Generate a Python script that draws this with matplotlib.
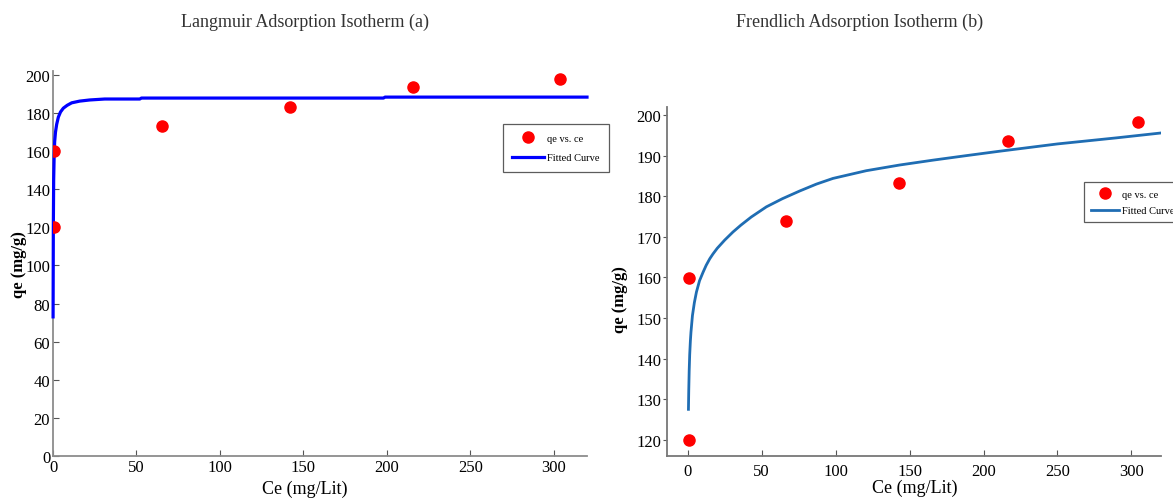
import matplotlib
matplotlib.use("Agg")
import matplotlib.pyplot as plt

plt.rcParams['font.family'] = ['Liberation Serif', 'DejaVu Serif']

# ---- data ----
ce_a = [0.3, 0.3, 65.6, 142.0, 216.0, 304.0]
qe_a = [120.2, 160.0, 173.4, 183.2, 193.7, 197.9]
fit_ce_a = [0.05, 0.2, 0.4, 0.7, 1.0, 1.5, 2.2, 3.2, 4.5, 6.2, 8.5, 11.2, 16.0,
            22.0, 31.0, 52.0, 53.0, 198.0, 199.0, 320.0]
fit_qe_a = [73.0, 120.0, 145.0, 158.0, 165.0, 170.0, 174.0, 177.8, 180.5, 182.5,
            184.0, 185.3, 186.2, 186.8, 187.3, 187.3, 187.8, 187.8, 188.3, 188.3]

ce_b = [1.0, 1.0, 66.4, 142.6, 216.4, 304.3]
qe_b = [120.0, 159.9, 173.8, 183.2, 193.6, 198.3]
fit_ce_b = [0.5, 0.7, 1.0, 1.35, 1.8, 2.2, 3.2, 4.5, 5.9, 8.0, 10.4, 12.5, 14.9, 17.1,
            20.0, 25.0, 30.6, 36.0, 43.0, 53.2, 64.0, 75.7, 87.0, 98.2, 120.7, 143.2,
            165.8, 188.0, 210.8, 250.0, 290.0, 320.0]
fit_qe_b = [127.5, 132.0, 137.0, 141.0, 144.3, 146.5, 150.6, 153.8, 156.4, 159.2,
            161.3, 163.0, 164.6, 165.8, 167.2, 169.2, 171.2, 172.9, 174.9, 177.4,
            179.4, 181.3, 183.0, 184.4, 186.3, 187.7, 188.9, 190.0, 191.1, 192.9,
            194.4, 195.6]

x_ticks = [0, 50, 100, 150, 200, 250, 300]
y_ticks_a = [0, 20, 40, 60, 80, 100, 120, 140, 160, 180, 200]
y_ticks_b = [120, 130, 140, 150, 160, 170, 180, 190, 200]

W, H = 1173, 502
fig = plt.figure(figsize=(W / 100, H / 100), dpi=100)


def fr(x0, y0, x1, y1):
    return [x0 / W, 1 - y1 / H, (x1 - x0) / W, (y1 - y0) / H]


ax1 = fig.add_axes(fr(53, 72, 587, 457))
ax2 = fig.add_axes(fr(667, 108, 1161, 457))

tick_fs = 12
# ---- panel (a) ----
ax1.plot(ce_a, qe_a, 'o', color='#ff0000', ms=8, mec='#ff0000', label='qe vs. ce', zorder=4)
ax1.plot(fit_ce_a, fit_qe_a, '-', color='#0000ff', lw=2.3, label='Fitted Curve', zorder=3,
         clip_on=False)
ax1.set_xlim(0, 320)
ax1.set_ylim(0, 202)
ax1.set_xticks(x_ticks)
ax1.set_yticks(y_ticks_a)
for s in ['top', 'right']:
    ax1.spines[s].set_visible(False)
for s in ['left', 'bottom']:
    ax1.spines[s].set_color('#8c8c8c')
    ax1.spines[s].set_linewidth(1.3)
ax1.tick_params(direction='in', length=4, width=0.8, color='#555555',
                labelsize=tick_fs, pad=2)
ax1.set_xlabel('Ce (mg/Lit)', fontsize=13)
ax1.set_ylabel('qe (mg/g)', fontsize=12, fontweight='bold')
ax1.xaxis.set_label_coords(0.472, -0.062)
ax1.yaxis.set_label_coords(-0.048, 0.499)

leg1 = ax1.legend(loc='upper left', bbox_to_anchor=(503 / W, 1 - 125 / H),
                  bbox_transform=fig.transFigure, fontsize=7.5, frameon=True,
                  fancybox=False, edgecolor='#333333', handlelength=3.0,
                  labelspacing=1.0, borderpad=0.9, handletextpad=0.3,
                  borderaxespad=0)
leg1.get_frame().set_linewidth(0.9)

# ---- panel (b) ----
ax2.plot(ce_b, qe_b, 'o', color='#ff0000', ms=8, mec='#ff0000', label='qe vs. ce', zorder=4)
ax2.plot(fit_ce_b, fit_qe_b, '-', color='#1f6db3', lw=2.0, label='Fitted Curve', zorder=3)
ax2.set_xlim(-14, 320)
ax2.set_ylim(116, 202)
ax2.set_xticks(x_ticks)
ax2.set_yticks(y_ticks_b)
for s in ['top', 'right']:
    ax2.spines[s].set_visible(False)
for s in ['left', 'bottom']:
    ax2.spines[s].set_color('#777777')
    ax2.spines[s].set_linewidth(1.3)
ax2.tick_params(axis='x', direction='in', length=4, width=0.8, color='#555555',
                labelsize=tick_fs, pad=5)
ax2.tick_params(axis='y', direction='out', length=3, width=0.8, color='#555555',
                labelsize=tick_fs, pad=1)
ax2.set_xlabel('Ce (mg/Lit)', fontsize=13)
ax2.set_ylabel('qe (mg/g)', fontsize=12, fontweight='bold')
ax2.xaxis.set_label_coords(0.502, -0.066)
ax2.yaxis.set_label_coords(-0.078, 0.45)

leg2 = ax2.legend(loc='upper left', bbox_to_anchor=(1084 / W, 1 - 183 / H),
                  bbox_transform=fig.transFigure, fontsize=7.5, frameon=True,
                  fancybox=False, edgecolor='#333333', handlelength=2.7,
                  labelspacing=0.7, borderpad=0.7, handletextpad=0.25,
                  borderaxespad=0)
leg2.get_frame().set_linewidth(0.9)

# ---- titles ----
fig.text(305 / W, 1 - 22 / H, 'Langmuir Adsorption Isotherm (a)', ha='center', va='center',
         fontsize=13, color='#333333')
fig.text(860 / W, 1 - 22 / H, 'Frendlich Adsorption Isotherm (b)', ha='center', va='center',
         fontsize=13, color='#333333')

fig.savefig('out.png', dpi=100)
